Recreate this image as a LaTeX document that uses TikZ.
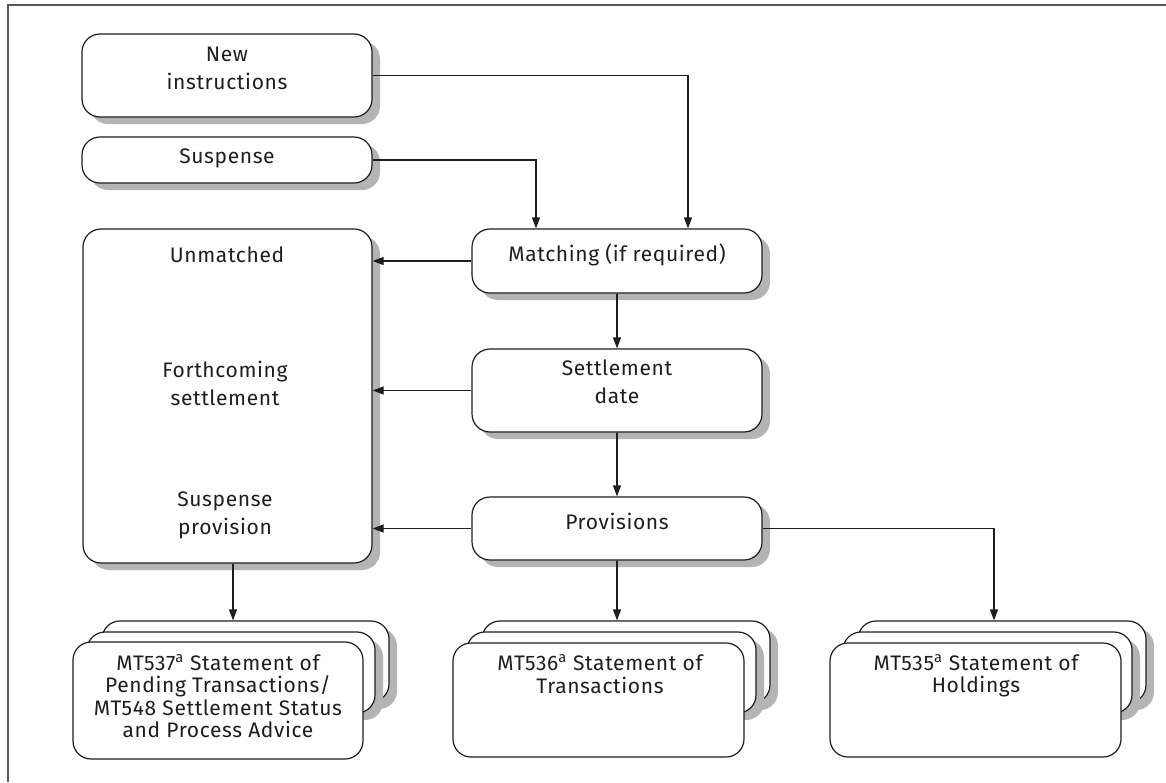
\documentclass[tikz,border=0pt]{standalone}
\usepackage{fontspec}
\setmainfont{Fira Sans}[LetterSpace=3]
\usetikzlibrary{arrows.meta,shadows,calc}
\definecolor{shade}{HTML}{B4B4B4}
\definecolor{ink}{HTML}{1E1E1E}
\tikzset{
  box/.style={draw=ink, line width=1.2pt, fill=white, rounded corners=18pt, inner sep=0pt},
  shbox/.style={box, drop shadow={shadow xshift=8pt, shadow yshift=-7pt, fill=shade, opacity=1}},
  lbl/.style={font=\fontsize{21}{28}\selectfont, align=center, text=ink, inner sep=0pt},
  slbl/.style={font=\fontsize{21}{22.5}\selectfont, align=center, text=ink, inner sep=0pt},
  conn/.style={draw=ink, line width=1.2pt},
  arr/.style={conn, -{Triangle[length=11pt,width=8pt]}},
}
\newcommand{\mkbox}[6]{% name, style, cx, cy, w, h
  \node[#2, minimum width=#5pt, minimum height=#6pt] (#1) at (#3,#4) {};}
\begin{document}
\begin{tikzpicture}[x=1pt,y=-1pt]
\useasboundingbox (0,0) rectangle (1166,782);
\draw[draw=black!65, line width=1.5pt] (8,782) -- (8,5) -- (1166,5);

% top boxes
\mkbox{newi}{shbox}{227}{75.5}{290}{83}
\node[lbl] (newit) at (227,68) {New\\instructions};
\mkbox{susp}{shbox}{227}{160}{290}{46}
\node[lbl] (suspt) at (227,158) {Suspense};

% big left box
\mkbox{big}{shbox}{227.5}{396}{289}{334}
\node[lbl] (unm) at (227,255) {Unmatched};
\node[lbl] (fcs) at (225,383) {Forthcoming\\settlement};
\node[lbl] (spv) at (225,515) {Suspense\\provision};

% center column
\mkbox{match}{shbox}{617}{261}{290}{64}
\node[lbl] (matcht) at (617,255) {Matching (if required)};
\mkbox{sdate}{shbox}{617}{390.5}{290}{83}
\node[lbl] (sdatet) at (617,382) {Settlement\\date};
\mkbox{prov}{shbox}{617}{528.5}{290}{63}
\node[lbl] (provt) at (617,521) {Provisions};

% stacks
\mkbox{sAc}{shbox}{245.5}{661.5}{287}{81}
\mkbox{sAb}{shbox}{231}{672.5}{288}{81}
\mkbox{sAa}{box}{218}{700.5}{290}{117}
\node[slbl] (sAt) at (218,696) {MT537\textsuperscript{a} Statement of\\Pending Transactions/\\MT548 Settlement Status\\and Process Advice};

\mkbox{sBc}{shbox}{626}{662}{288}{82}
\mkbox{sBb}{shbox}{611.5}{672.5}{289}{81}
\mkbox{sBa}{box}{598.5}{700}{291}{114}
\node[slbl] (sBt) at (600,674) {MT536\textsuperscript{a} Statement of\\Transactions};

\mkbox{sCc}{shbox}{1002}{662}{288}{82}
\mkbox{sCb}{shbox}{987.5}{672.5}{289}{81}
\mkbox{sCa}{box}{975.5}{700}{291}{114}
\node[slbl] (sCt) at (976,676) {MT535\textsuperscript{a} Statement of\\Holdings};

% connectors
\coordinate (j1) at (688,75.5);
\coordinate (j2) at (536,160);
\draw[arr] (newi.east) -- (j1) -- (j1 |- match.north);
\draw[arr] (susp.east) -- (j2) -- (j2 |- match.north);
\draw[arr] (match.west) -- (match.west -| big.east);
\draw[arr] (sdate.west) -- (sdate.west -| big.east);
\draw[arr] (prov.west) -- (prov.west -| big.east);
\draw[arr] (match.south) -- (sdate.north);
\draw[arr] (sdate.south) -- (prov.north);
\coordinate (j3) at (994,528.5);
\draw[arr] (prov.east) -- (j3) -- (j3 |- sCc.north);
\draw[arr] (prov.south) -- (prov.south |- sBc.north);
\draw[arr] (big.south -| 233,0) -- (233,0 |- sAc.north);
\end{tikzpicture}
\end{document}
